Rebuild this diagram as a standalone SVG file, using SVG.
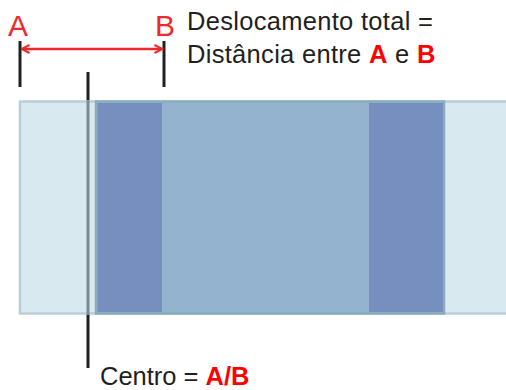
<svg xmlns="http://www.w3.org/2000/svg" width="506" height="390" viewBox="0 0 506 390">
<style>
text{font-family:"Liberation Sans",Arial,sans-serif}
.dark{fill:#231f20}
.red{fill:#ee2a2b}
.bred{fill:#ff0000;font-weight:bold}
.tick{stroke:#231f20;stroke-width:3}
</style>
<defs>
<marker id="ah" viewBox="0 0 10 10" refX="9" refY="5" markerWidth="10" markerHeight="10" markerUnits="userSpaceOnUse" orient="auto-start-reverse">
<path d="M1 1 L9 5 L1 9" fill="none" stroke="#ee2a2b" stroke-width="2"/>
</marker>
</defs>
<g id="center-line-top">
<line class="tick" x1="88" y1="72" x2="88" y2="368"/>
</g>
<g id="outer">
<rect x="20" y="101.5" width="490" height="212" fill="#d8e9f0" stroke="#b8cfd8" stroke-width="2.5"/>
</g>
<g id="middle">
<rect x="96" y="101.5" width="348" height="212" fill="#94b3cf" stroke="#8aadbd" stroke-width="2.5"/>
</g>
<g id="left-dark">
<rect x="97.5" y="103" width="64.5" height="209" fill="#778fbf"/>
</g>
<g id="right-dark">
<rect x="369" y="103" width="74" height="209" fill="#778fbf"/>
</g>
<g id="center-line-inside">
<line x1="88" y1="100.5" x2="88" y2="315" stroke="#7a8a90" stroke-width="3"/>
</g>
<g id="connectors">
<line class="tick" x1="20" y1="41" x2="20" y2="87"/>
<line class="tick" x1="164" y1="41" x2="164" y2="87"/>
<line x1="21.5" y1="49" x2="162.5" y2="49" stroke="#ee2a2b" stroke-width="2.5" marker-start="url(#ah)" marker-end="url(#ah)"/>
</g>
<g id="label-A"><text x="8" y="36" font-size="30" class="red">A</text></g>
<g id="label-B"><text x="155" y="36" font-size="30" class="red">B</text></g>
<g id="label-desl">
<text x="187" y="30" font-size="25.5" letter-spacing="0.3" class="dark">Deslocamento total =</text>
<text x="187" y="63" font-size="25.5" letter-spacing="0.3" class="dark">Distância entre <tspan class="bred">A</tspan> e <tspan class="bred">B</tspan></text>
</g>
<g id="label-centro">
<text x="100" y="384.5" font-size="25.5" class="dark">Centro = <tspan class="bred">A/B</tspan></text>
</g>
</svg>
